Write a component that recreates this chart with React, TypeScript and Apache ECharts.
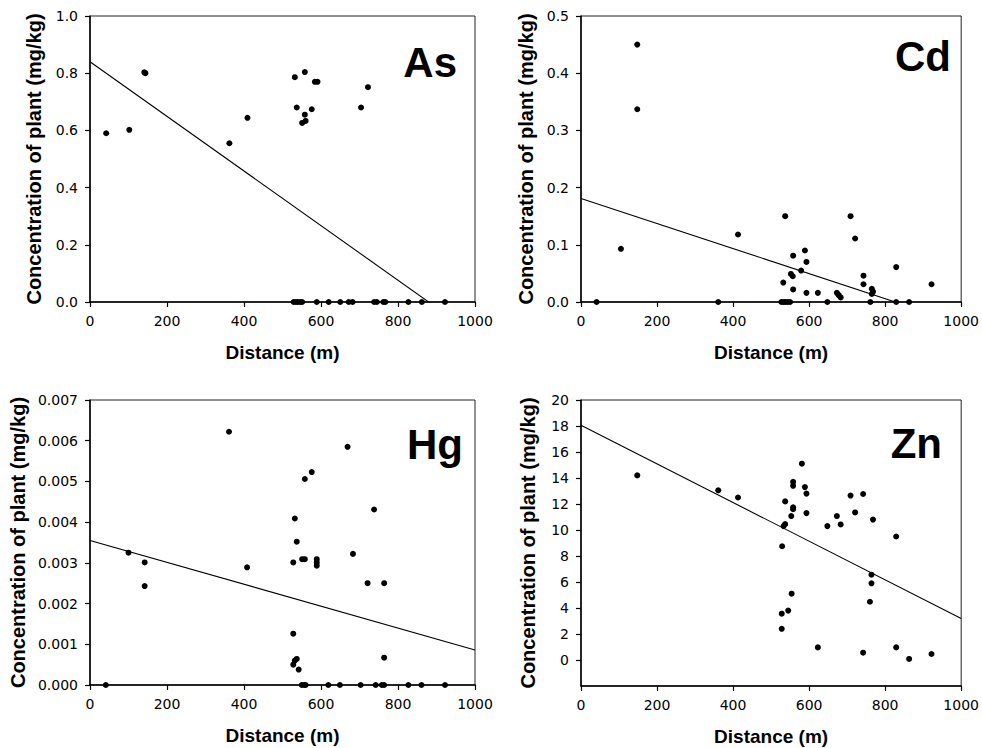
import React, { useEffect, useRef } from "react";
import * as echarts from "echarts";

// ---- Data ----
const xAxisTicks = [0, 200, 400, 600, 800, 1000];

const asPoints: [number, number][] = [
  [42, 0.59], [102, 0.602], [141, 0.803], [144, 0.8], [362, 0.555], [409, 0.644],
  [532, 0.786], [558, 0.804], [537, 0.68], [584, 0.77], [591, 0.77], [576, 0.674],
  [558, 0.655], [551, 0.626], [560, 0.633], [704, 0.68], [722, 0.751],
  [529, 0], [535, 0], [540, 0], [546, 0], [551, 0], [589, 0], [620, 0], [650, 0],
  [672, 0], [682, 0], [738, 0], [745, 0], [762, 0], [767, 0], [827, 0], [862, 0], [922, 0],
];
const asLine: [number, number][] = [[0, 0.84], [1000, -0.115]];

const cdPoints: [number, number][] = [
  [41, 0], [105, 0.093], [148, 0.45], [148, 0.337], [361, 0], [413, 0.118], [537, 0.15],
  [532, 0.034], [527, 0], [533, 0], [538, 0], [544, 0], [550, 0], [558, 0.081], [589, 0.09],
  [593, 0.07], [579, 0.055], [552, 0.049], [557, 0.045], [558, 0.022], [593, 0.016],
  [623, 0.016], [648, 0], [673, 0.016], [678, 0.012], [683, 0.008], [709, 0.15], [721, 0.111],
  [743, 0.046], [743, 0.031], [765, 0.023], [768, 0.018], [765, 0.014], [761, 0], [829, 0.061],
  [829, 0], [863, 0], [922, 0.031],
];
const cdLine: [number, number][] = [[0, 0.181], [1000, -0.038]];

const hgPoints: [number, number][] = [
  [41, 0], [100, 0.00325], [142, 0.00301], [142, 0.00243], [361, 0.00622], [408, 0.00289],
  [532, 0.00409], [537, 0.00352], [528, 0.00301], [551, 0.00309], [558, 0.00309],
  [558, 0.00506], [576, 0.00523], [589, 0.00309], [589, 0.00301], [589, 0.00293],
  [528, 0.00126], [532, 0.0006], [528, 0.0005], [537, 0.00064], [542, 0.00038],
  [550, 0], [556, 0], [560, 0], [619, 0], [649, 0], [703, 0], [742, 0], [758, 0], [764, 0],
  [827, 0], [861, 0], [922, 0],
  [669, 0.00585], [683, 0.00322], [721, 0.0025], [738, 0.00431], [764, 0.0025], [764, 0.00067],
];
const hgLine: [number, number][] = [[0, 0.00355], [1000, 0.00086]];

const znPoints: [number, number][] = [
  [148, 14.2], [361, 13.05], [413, 12.5], [581, 15.1], [558, 13.7], [558, 13.4], [589, 13.3],
  [593, 12.8], [537, 12.2], [558, 11.75], [558, 11.6], [553, 11.07], [593, 11.3], [533, 10.3],
  [537, 10.45], [529, 8.75], [554, 5.1], [528, 3.56], [545, 3.8], [528, 2.4], [623, 0.97],
  [648, 10.3], [673, 11.07], [683, 10.43], [709, 12.65], [742, 12.77], [721, 11.35], [768, 10.8],
  [764, 6.56], [764, 5.9], [760, 4.48], [742, 0.56], [829, 9.5], [829, 0.97], [863, 0.08],
  [922, 0.46],
];
const znLine: [number, number][] = [[0, 18.05], [1000, 3.2]];
const znTicks = [0, 2, 4, 6, 8, 10, 12, 14, 16, 18, 20];

const panelNames = ["As", "Cd", "Hg", "Zn"];
const xName = "Distance (m)";
const yName = "Concentration of plant (mg/kg)";

const TICK_FONT = '"DejaVu Sans", sans-serif';
const NAME_FONT = '"Liberation Sans", Arial, sans-serif';

export default function App() {
  const ref = useRef<HTMLDivElement>(null);

  useEffect(() => {
    document.body.style.margin = "0";
    if (!ref.current) return;
    const chart = echarts.init(ref.current, undefined, { renderer: "svg" });

    const grids = [
      { left: 90, top: 16, width: 385, height: 286 },
      { left: 581, top: 16, width: 386, height: 286 },
      { left: 90, top: 400, width: 385, height: 285 },
      { left: 581, top: 400, width: 386, height: 286 },
    ].map((g) => ({ ...g, show: true, borderColor: "#222", borderWidth: 1, backgroundColor: "#fff" }));

    const axisLine = { show: true, onZero: false, lineStyle: { color: "#000", width: 1.5 } };
    const axisTick = { show: true, inside: false, length: 5, lineStyle: { color: "#000", width: 1.2 } };
    const labelStyle = { color: "#000", fontSize: 14, fontFamily: TICK_FONT };
    const nameStyle = { color: "#000", fontSize: 20, fontWeight: "bold" as const, fontFamily: NAME_FONT };

    const xAxes = [0, 1, 2, 3].map((i) => ({
      type: "value" as const,
      gridIndex: i,
      min: xAxisTicks[0],
      max: xAxisTicks[xAxisTicks.length - 1],
      interval: 200,
      name: xName,
      nameLocation: "middle" as const,
      nameGap: 41,
      nameTextStyle: { ...nameStyle, fontSize: 19 },
      axisLine,
      axisTick,
      axisLabel: { ...labelStyle, margin: 12, formatter: (v: number) => String(v) },
      splitLine: { show: false },
    }));

    const yBase = (i: number, gap: number) => ({
      type: "value" as const,
      gridIndex: i,
      name: yName,
      nameLocation: "middle" as const,
      nameRotate: 90,
      nameGap: gap,
      nameTextStyle: nameStyle,
      axisLine,
      axisTick,
      splitLine: { show: false },
    });

    const yAxes = [
      { ...yBase(0, 46), min: 0, max: 1, interval: 0.2, axisLabel: { ...labelStyle, margin: 12, formatter: (v: number) => v.toFixed(1) } },
      { ...yBase(1, 45), min: 0, max: 0.5, interval: 0.1, axisLabel: { ...labelStyle, margin: 12, formatter: (v: number) => v.toFixed(1) } },
      { ...yBase(2, 62), min: 0, max: 0.007, interval: 0.001, axisLabel: { ...labelStyle, margin: 12, formatter: (v: number) => v.toFixed(3) } },
      {
        ...yBase(3, 43),
        min: -2,
        max: 20,
        interval: 2,
        axisTick: { ...axisTick, customValues: znTicks },
        axisLabel: { ...labelStyle, margin: 12, customValues: znTicks, formatter: (v: number) => (v < 0 ? "" : String(v)) },
      },
    ];

    const pts = [asPoints, cdPoints, hgPoints, znPoints];
    const lines = [asLine, cdLine, hgLine, znLine];
    const series: any[] = [];
    pts.forEach((p, i) => {
      series.push({
        type: "line",
        xAxisIndex: i,
        yAxisIndex: i,
        data: lines[i],
        showSymbol: false,
        symbol: "none",
        clip: true,
        lineStyle: { color: "#000", width: 1.1 },
        z: 2,
      });
      series.push({
        type: "scatter",
        xAxisIndex: i,
        yAxisIndex: i,
        data: p,
        symbol: "circle",
        symbolSize: 6,
        clip: false,
        itemStyle: { color: "#000", opacity: 1 },
        z: 3,
      });
    });

    const titlePos = [
      { x: 457, y: 62 },
      { x: 951, y: 56 },
      { x: 463, y: 444 },
      { x: 942, y: 443 },
    ];
    const graphic = panelNames.map((t, i) => ({
      type: "text" as const,
      x: titlePos[i].x,
      y: titlePos[i].y,
      z: 10,
      style: {
        text: t,
        fill: "#000",
        fontSize: 42,
        fontWeight: "bold",
        fontFamily: NAME_FONT,
        align: "right",
        verticalAlign: "middle",
      },
    }));

    chart.setOption({
      animation: false,
      backgroundColor: "#fff",
      grid: grids,
      xAxis: xAxes,
      yAxis: yAxes,
      series,
      graphic,
    });

    return () => chart.dispose();
  }, []);

  return <div ref={ref} style={{ width: 982, height: 748 }} />;
}
